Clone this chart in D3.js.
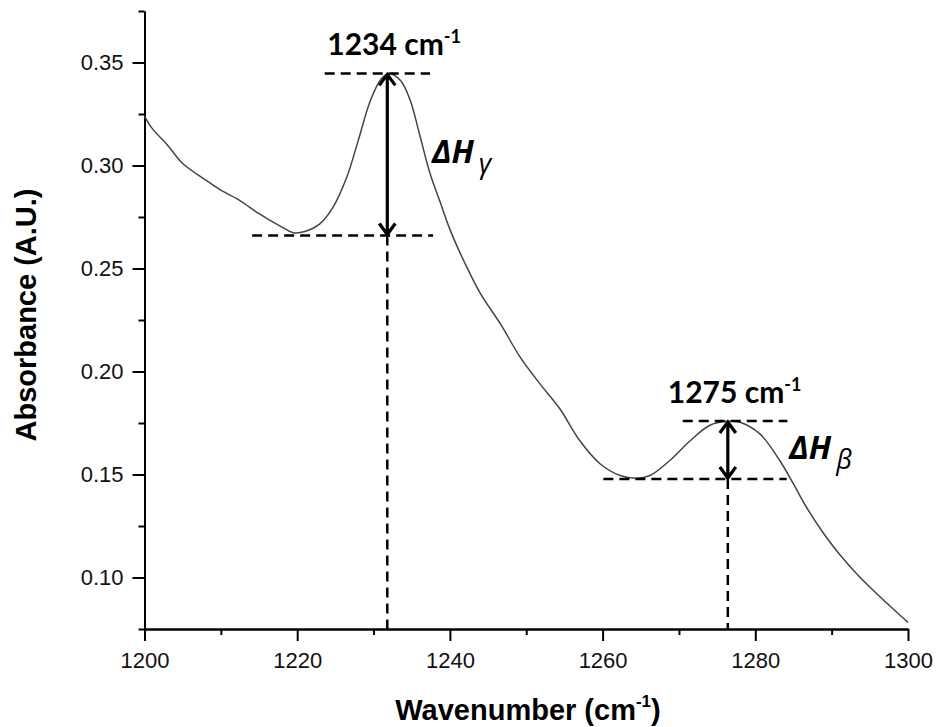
<!DOCTYPE html>
<html>
<head>
<meta charset="utf-8">
<script src="https://cdn.jsdelivr.net/npm/d3@7"></script>
<style>
  html, body { margin: 0; padding: 0; background: #fff; }
  svg { display: block; }
  .axis path, .axis line { stroke: #000; stroke-width: 2; }
  .axis text { font-family: 'Liberation Sans', Arial, sans-serif; font-size: 22px; fill: #111; }
  .axis-title { font-family: 'Liberation Sans', Arial, sans-serif; font-weight: bold; font-size: 29px; fill: #000; }
  .peak-label { font-family: Lato, 'Open Sans', sans-serif; font-weight: bold; font-size: 30px; fill: #000; }
  .delta-label { font-family: 'Open Sans', sans-serif; font-style: italic; font-size: 32px; fill: #000; }
</style>
</head>
<body>
<div id="chart"></div>
<script>
// IR absorbance spectrum
const wavenumber = [1200, 1201, 1203, 1205, 1208, 1210, 1212.5, 1215, 1218, 1219.5,
    1221, 1223, 1224.7, 1226.5, 1228, 1229.6, 1231, 1232, 1233.5, 1234.8,
    1236, 1237.4, 1238.7, 1240, 1242, 1244, 1246.6, 1249.2, 1251.8, 1254.4,
    1257, 1259.7, 1262.3, 1264.5, 1266.2, 1268.8, 1271.5, 1274, 1276.3, 1278,
    1280.6, 1283.2, 1285, 1286.7, 1289, 1291, 1293.3, 1295.5, 1297.6, 1300];
const absorbance = [0.324, 0.318, 0.310, 0.301, 0.293, 0.288, 0.283, 0.2766, 0.2701, 0.2674,
    0.2680, 0.2718, 0.2798, 0.2944, 0.3122, 0.3317, 0.3420, 0.3447, 0.3414, 0.3317,
    0.3155, 0.2961, 0.2825, 0.2690, 0.2523, 0.2378, 0.2232, 0.2070, 0.1940, 0.1819,
    0.1665, 0.1551, 0.1495, 0.1482, 0.1495, 0.1568, 0.1665, 0.1738, 0.1758, 0.1754,
    0.1697, 0.1568, 0.1454, 0.1341, 0.1211, 0.1114, 0.1017, 0.0936, 0.0863, 0.0782];

// axis ticks
const xTicks = [1200, 1220, 1240, 1260, 1280, 1300];
const xMinorTicks = [1210, 1230, 1250, 1270, 1290];
const yTicks = [0.10, 0.15, 0.20, 0.25, 0.30, 0.35];
const yMinorTicks = [0.075, 0.125, 0.175, 0.225, 0.275, 0.325, 0.375];

// marked peaks: maximum, baseline and guide-line extents
const peakNames = ['1234', '1275'];
const peakCenter = [1231.8, 1276.4];
const peakTop = [0.3447, 0.1760];
const peakBase = [0.2660, 0.1478];
const topGuideFrom = [1223.6, 1270.5];
const topGuideTo = [1237.4, 1284.2];
const baseGuideFrom = [1214.1, 1260.1];
const baseGuideTo = [1237.8, 1284.1];
const deltaSub = ['γ', 'β'];

const Chart = {
    width: 938,
    height: 727,
    margin: { top: 11, right: 30, bottom: 98, left: 144.5 },

    render() {
        const container = document.getElementById('chart');
        const innerWidth = this.width - this.margin.left - this.margin.right;
        const innerHeight = this.height - this.margin.top - this.margin.bottom;

        const svg = d3.select(container)
            .append('svg')
            .attr('width', this.width)
            .attr('height', this.height);

        const g = svg.append('g')
            .attr('transform', `translate(${this.margin.left},${this.margin.top})`);

        // Scales
        const x = d3.scaleLinear().domain([1200, 1300]).range([0, innerWidth]);
        const y = d3.scaleLinear().domain([0.075, 0.375]).range([innerHeight, 0]);

        // Minor ticks first, then the labelled axes on top
        g.append('g')
            .attr('class', 'axis')
            .attr('transform', `translate(0,${innerHeight})`)
            .call(d3.axisBottom(x).tickValues(xMinorTicks).tickSize(6).tickSizeOuter(0).tickFormat(''));

        g.append('g')
            .attr('class', 'axis')
            .call(d3.axisLeft(y).tickValues(yMinorTicks).tickSize(6).tickSizeOuter(0).tickFormat(''));

        g.append('g')
            .attr('class', 'axis x-axis')
            .attr('transform', `translate(0,${innerHeight})`)
            .call(d3.axisBottom(x).tickValues(xTicks).tickSize(12).tickSizeOuter(0).tickPadding(11)
                .tickFormat(d3.format('d')));

        g.append('g')
            .attr('class', 'axis y-axis')
            .call(d3.axisLeft(y).tickValues(yTicks).tickSize(12).tickSizeOuter(0).tickPadding(9)
                .tickFormat(d3.format('.2f')));

        // Spectrum line
        const points = wavenumber.map((w, i) => ({ w, a: absorbance[i] }));
        const line = d3.line()
            .x(d => x(d.w))
            .y(d => y(d.a))
            .curve(d3.curveCatmullRom.alpha(0.5));

        g.append('path')
            .datum(points)
            .attr('fill', 'none')
            .attr('stroke', '#444')
            .attr('stroke-width', 1.5)
            .attr('d', line);

        // Peak annotations
        const dash = '10,6';
        peakNames.forEach((name, i) => {
            const cx = x(peakCenter[i]);
            const yTop = y(peakTop[i]);
            const yBase = y(peakBase[i]);

            const guide = (x1, x2, y1, y2) => g.append('line')
                .attr('x1', x1).attr('x2', x2).attr('y1', y1).attr('y2', y2)
                .attr('stroke', '#000')
                .attr('stroke-width', 2.5)
                .attr('stroke-dasharray', dash);

            guide(x(topGuideFrom[i]), x(topGuideTo[i]), yTop, yTop);
            guide(x(baseGuideFrom[i]), x(baseGuideTo[i]), yBase, yBase);
            guide(cx, cx, yBase, innerHeight);

            // double-headed arrow between maximum and baseline
            g.append('path')
                .attr('fill', 'none')
                .attr('stroke', '#000')
                .attr('stroke-width', 3.2)
                .attr('stroke-linejoin', 'miter')
                .attr('d', `M${cx},${yTop + 1}V${yBase - 1}` +
                    `M${cx - 8},${yTop + 12}L${cx},${yTop + 1}L${cx + 8},${yTop + 12}` +
                    `M${cx - 8},${yBase - 12}L${cx},${yBase - 1}L${cx + 8},${yBase - 12}`);

            // wavenumber label above the peak
            const label = g.append('text')
                .attr('class', 'peak-label')
                .attr('x', cx - 60)
                .attr('y', yTop - 18);
            label.append('tspan').text(`${name} cm`);
            label.append('tspan')
                .attr('font-size', 18)
                .attr('dy', -12)
                .text('-1');

            // ΔH label to the right of the arrow
            const delta = g.append('text')
                .attr('class', 'delta-label')
                .attr('x', x(topGuideTo[i]) + 2)
                .attr('y', (yTop + yBase) / 2 + 9);
            delta.append('tspan').attr('font-weight', 'bold').text('ΔH');
            delta.append('tspan')
                .attr('font-size', 27)
                .attr('dx', 5)
                .attr('dy', 10)
                .text(deltaSub[i]);
        });

        // Axis titles
        const xTitle = svg.append('text')
            .attr('class', 'axis-title')
            .attr('text-anchor', 'middle')
            .attr('x', 528)
            .attr('y', 720);
        xTitle.append('tspan').text('Wavenumber (cm');
        xTitle.append('tspan').attr('font-size', 17).attr('dy', -13).text('-1');
        xTitle.append('tspan').attr('dy', 13).text(')');

        svg.append('text')
            .attr('class', 'axis-title')
            .attr('text-anchor', 'middle')
            .attr('transform', 'translate(36,315) rotate(-90)')
            .text('Absorbance (A.U.)');
    }
};

Chart.render();
</script>
</body>
</html>
